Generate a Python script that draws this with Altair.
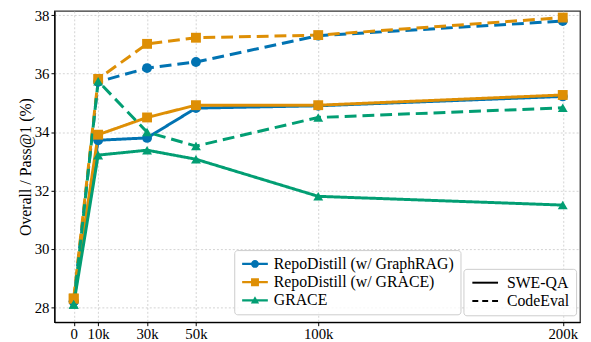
import altair as alt
import pandas as pd

steps = [0, 10000, 30000, 50000, 100000, 200000]
step_labels = ["0", "10k", "30k", "50k", "100k", "200k"]
y_ticks = [28, 30, 32, 34, 36, 38]

methods = ["RepoDistill (w/ GraphRAG)", "RepoDistill (w/ GRACE)", "GRACE"]
benchmarks = ["SWE-QA", "CodeEval"]
colors = ["#0173B2", "#DE8F05", "#029E73"]

graphrag_sweqa = [28.2, 33.72, 33.80, 34.82, 34.90, 35.22]
grace_rd_sweqa = [28.3, 33.91, 34.50, 34.92, 34.92, 35.27]
grace_sweqa = [28.1, 33.21, 33.38, 33.07, 31.80, 31.50]
graphrag_codeeval = [28.2, 35.72, 36.19, 36.40, 37.30, 37.80]
grace_rd_codeeval = [28.3, 35.82, 37.02, 37.23, 37.32, 37.92]
grace_codeeval = [28.1, 35.74, 34.00, 33.52, 34.50, 34.83]

series = [
    (methods[0], benchmarks[0], graphrag_sweqa),
    (methods[0], benchmarks[1], graphrag_codeeval),
    (methods[1], benchmarks[0], grace_rd_sweqa),
    (methods[1], benchmarks[1], grace_rd_codeeval),
    (methods[2], benchmarks[0], grace_sweqa),
    (methods[2], benchmarks[1], grace_codeeval),
]
rows = []
for m, b, vals in series:
    for s, v in zip(steps, vals):
        rows.append({"step": s, "value": v, "method": m, "benchmark": b})
df = pd.DataFrame(rows)

# legend-only rows, placed outside the x domain and clipped away
legend_df = pd.DataFrame({"method": methods, "step": [-1e7] * 3, "value": [30] * 3})
dash_df = pd.DataFrame({"benchmark": benchmarks, "step": [-1e7] * 2, "value": [30] * 2})

FONT = "Liberation Serif, Times New Roman, serif"
label_map = "{" + ",".join(f"'{s}':'{l}'" for s, l in zip(steps, step_labels)) + "}"

x_enc = alt.X(
    "step:Q",
    scale=alt.Scale(domain=[-7880, 207070], nice=False, zero=False),
    axis=alt.Axis(values=steps, labelExpr=f"{label_map}[datum.value]", title=None),
)
y_enc = alt.Y(
    "value:Q",
    scale=alt.Scale(domain=[27.49, 38.145], nice=False, zero=False),
    axis=alt.Axis(values=y_ticks, title="Overall / Pass@1 (%)"),
)
color_scale = alt.Scale(domain=methods, range=colors)

lines = alt.Chart(df).mark_line(strokeWidth=3).encode(
    x=x_enc,
    y=y_enc,
    color=alt.Color("method:N", scale=color_scale, legend=None),
    strokeDash=alt.StrokeDash(
        "benchmark:N",
        scale=alt.Scale(domain=benchmarks, range=[[1, 0], [12, 6]]),
        legend=None,
    ),
    detail="benchmark:N",
)

points = alt.Chart(df).mark_point(filled=True, size=100, opacity=1).encode(
    x=x_enc,
    y=y_enc,
    color=alt.Color("method:N", scale=color_scale, legend=None),
    shape=alt.Shape(
        "method:N",
        scale=alt.Scale(domain=methods, range=["circle", "square", "triangle-up"]),
        legend=None,
    ),
)

common = dict(
    title=None, symbolSize=64, symbolStrokeWidth=0, symbolOpacity=1,
    labelFont=FONT, labelFontSize=16, labelLimit=300, labelColor="black",
    padding=6, rowPadding=2.5,
    fillColor="rgba(255,255,255,0.8)", strokeColor="#cccccc", cornerRadius=3,
)

bar = "M-3.25,-0.28H3.25V0.28H-3.25Z"
legend_shapes = [
    bar + "M-1,0A1,1 0 1,1 1,0A1,1 0 1,1 -1,0Z",
    bar + "M-1,-1H1V1H-1Z",
    bar + "M0,-1.1L1.05,0.75L-1.05,0.75Z",
]
leg = alt.Legend(orient="none", legendX=182, legendY=242, symbolOffset=7,
                 labelOffset=11, **common)
legend_layer = alt.Chart(legend_df).mark_point(filled=True, size=64, clip=True).encode(
    x=x_enc,
    y=y_enc,
    color=alt.Color("method:N", scale=color_scale, legend=leg),
    shape=alt.Shape(
        "method:N", scale=alt.Scale(domain=methods, range=legend_shapes), legend=leg
    ),
)

dash_shapes = [
    "M-3.25,-0.25H3.25V0.25H-3.25Z",
    "M-3.25,-0.25H-1.75V0.25H-3.25Z"
    "M-0.75,-0.25H0.75V0.25H-0.75Z"
    "M1.75,-0.25H3.25V0.25H1.75Z",
]
dash_leg = alt.Legend(orient="none", legendX=414, legendY=261, symbolOffset=8,
                      labelOffset=14, **common)
dash_layer = alt.Chart(dash_df).mark_point(
    filled=True, size=64, clip=True, color="black"
).encode(
    x=x_enc,
    y=y_enc,
    shape=alt.Shape(
        "benchmark:N", scale=alt.Scale(domain=benchmarks, range=dash_shapes),
        legend=dash_leg,
    ),
)

chart = (
    alt.layer(lines, points, legend_layer, dash_layer)
    .resolve_scale(color="independent", shape="independent")
    .properties(
        width=532,
        height=315,
        padding={"left": 47, "top": 1, "right": 3, "bottom": 18},
        autosize=alt.AutoSizeParams(type="none"),
        background="white",
    )
    .configure(font=FONT)
    .configure_view(stroke="#333333", strokeWidth=1.3)
    .configure_axis(
        labelFont=FONT, labelFontSize=15, labelColor="black",
        titleFont=FONT, titleFontSize=16, titleColor="black", titleFontWeight="normal",
        domainColor="black", domainWidth=1.3, tickColor="black", tickSize=3.5,
        labelPadding=2, grid=True, gridColor="#c8c8c8", gridDash=[2, 2], gridWidth=0.8,
    )
    .configure_axisX(labelPadding=0.5)
    .configure_axisY(titlePadding=1)
    .configure_legend(labelFont=FONT)
)

chart.save("out.html", embed_options={"renderer": "svg", "actions": False})
